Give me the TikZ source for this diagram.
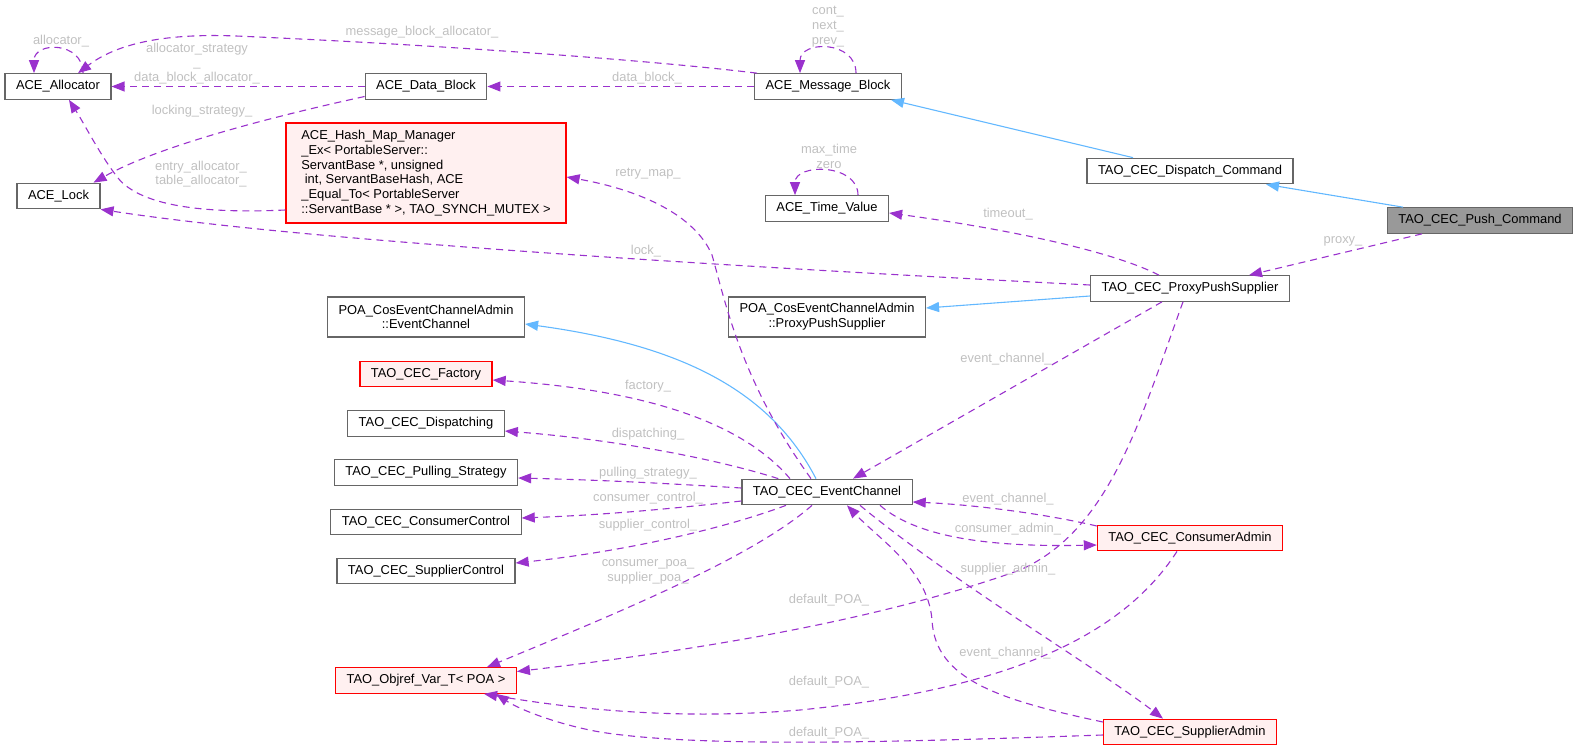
\documentclass[tikz,border=0pt]{standalone}
\usepackage{fontspec}
\setmainfont{Liberation Sans}
\usetikzlibrary{calc, positioning, arrows.meta}

\definecolor{dxpurple}{HTML}{9A32CD}
\definecolor{dxblue}{HTML}{63B8FF}
\definecolor{dxgrey}{HTML}{666666}
\definecolor{dxred}{HTML}{FF0000}
\definecolor{dxpink}{HTML}{FFF0F0}
\definecolor{dxfocus}{HTML}{999999}
\definecolor{dxlabel}{HTML}{C0C0C0}
\newcommand{\dxfont}{\fontsize{12.9pt}{14.7pt}\selectfont}

\tikzset{
  cls/.style={draw=dxgrey, line width=1.2pt, fill=white, font=\dxfont, inner xsep=11pt, inner ysep=0pt,
    minimum height=25.5pt, text height=9.5pt, text depth=3pt},
  undoc/.style={cls, draw=dxred, fill=dxpink},
  focus/.style={cls, fill=dxfocus},
  tall/.style={draw=dxgrey, line width=1.2pt, fill=white, font=\dxfont, inner xsep=11pt, inner ysep=0pt,
    align=center, minimum height=40pt},
  rel/.style={dxpurple, line width=1.1pt, dash pattern=on 7pt off 5pt, -{Triangle[length=13pt,width=10pt]}},
  isa/.style={dxblue, line width=1.1pt, -{Triangle[length=13pt,width=10pt]}},
  lbl/.style={font=\dxfont, text=dxlabel, align=center, inner sep=0pt},
}

\begin{document}
\begin{tikzpicture}[x=1pt, y=-1pt]
\useasboundingbox (0,0) rectangle (1579,752);

% classes
\node[cls] (alloc) at (58,86.5) {ACE\_Allocator};
\node[cls] (datablk) at (426,86.5) {ACE\_Data\_Block};
\node[cls] (msgblk) at (828,86.5) {ACE\_Message\_Block};
\node[cls] (lock) at (58.5,196) {ACE\_Lock};
\node[draw=dxred, fill=dxpink, line width=1.2pt, font=\dxfont, align=left, inner xsep=11pt,
  minimum width=280pt, minimum height=100pt] (hashmap) at (426,173)
  {ACE\_Hash\_Map\_Manager\\\_Ex< PortableServer::\\ServantBase *, unsigned\\\hspace*{3.5pt}int, ServantBaseHash, ACE\\\_Equal\_To< PortableServer\\::ServantBase * >, TAO\_SYNCH\_MUTEX >};
\node[cls] (timeval) at (827,208.5) {ACE\_Time\_Value};
\node[cls] (dispcmd) at (1190,171) {TAO\_CEC\_Dispatch\_Command};
\node[focus] (pushcmd) at (1480,220.5) {TAO\_CEC\_Push\_Command};
\node[cls] (pps) at (1190,288.5) {TAO\_CEC\_ProxyPushSupplier};
\node[tall] (poaec) at (426,317) {POA\_CosEventChannelAdmin\\::EventChannel};
\node[tall] (poapps) at (827,317) {POA\_CosEventChannelAdmin\\::ProxyPushSupplier};
\node[undoc] (factory) at (426,374) {TAO\_CEC\_Factory};
\node[cls] (dispatching) at (426,423.5) {TAO\_CEC\_Dispatching};
\node[cls] (pulling) at (426,472.5) {TAO\_CEC\_Pulling\_Strategy};
\node[cls] (consctrl) at (426,522) {TAO\_CEC\_ConsumerControl};
\node[cls] (suppctrl) at (426,571) {TAO\_CEC\_SupplierControl};
\node[cls] (ec) at (827,492) {TAO\_CEC\_EventChannel};
\node[undoc] (consadm) at (1190,538) {TAO\_CEC\_ConsumerAdmin};
\node[undoc] (objref) at (426,680.5) {TAO\_Objref\_Var\_T< POA >};
\node[undoc] (suppadm) at (1190,732) {TAO\_CEC\_SupplierAdmin};

% inheritance
\draw[isa] ($(dispcmd.north)+(-57,0)$) -- ($(msgblk.south)+(63,0)$);
\draw[isa] ($(pushcmd.north)+(-77,0)$) -- ($(dispcmd.south)+(76,0)$);
\draw[isa] ($(pps.west)+(0,7.5)$) -- ($(poapps.east)+(0,-9)$);
\draw[isa] ($(ec.north)+(-11,0)$) .. controls (770,390) and (680,345) .. ($(poaec.east)+(0,7)$);

% usage
\draw[rel] ($(alloc.north)+(25,0)$) .. controls +(0,-32) and +(0,-32) .. ($(alloc.north)+(-24,0)$);
\draw[rel] ($(msgblk.north)+(28,0)$) .. controls +(0,-33) and +(0,-33) .. ($(msgblk.north)+(-28,0)$);
\draw[rel] ($(timeval.north)+(31,0)$) .. controls +(0,-32) and +(0,-32) .. ($(timeval.north)+(-32,0)$);
\draw[rel] ($(msgblk.north west)+(3,0)$) .. controls (640,59) and (420,44) .. (236,36)
  .. controls (160,33) and (115,45) .. ($(alloc.north)+(20,0)$);
\draw[rel] (datablk.west) -- (alloc.east);
\draw[rel] ($(datablk.west)+(0,10)$) .. controls (280,115) and (160,145) .. ($(lock.north)+(35,0)$);
\draw[rel] ($(hashmap.west)+(0,37)$) .. controls (200,214) and (140,205) .. (118,178)
  .. controls (100,155) and (85,125) .. ($(alloc.south)+(11,0)$);
\draw[rel] (msgblk.west) -- (datablk.east);
\draw[rel] ($(pps.north)+(-31,0)$) .. controls (1110,250) and (1000,228) .. ($(timeval.east)+(0,4.5)$);
\draw[rel] ($(pps.west)+(0,-3.5)$) .. controls (700,265) and (300,240) .. (lock.south east);
\draw[rel] ($(pushcmd.south)+(-58,0)$) -- ($(pps.north)+(59,0)$);
\draw[rel] ($(ec.north)+(-16,0)$) .. controls (740,380) and (725,300) .. (712,255)
  .. controls (695,215) and (640,190) .. ($(hashmap.east)+(0,4)$);
\draw[rel] ($(ec.north)+(-37,0)$) .. controls (740,420) and (640,390) .. ($(factory.east)+(0,6)$);
\draw[rel] ($(ec.north west)+(37,0)$) .. controls (720,460) and (620,440) .. ($(dispatching.east)+(0,7.5)$);
\draw[rel] ($(ec.west)+(0,-4)$) .. controls (660,483) and (600,480) .. ($(pulling.east)+(0,5.5)$);
\draw[rel] ($(ec.west)+(0,9)$) .. controls (660,510) and (600,515) .. ($(consctrl.east)+(0,-4)$);
\draw[rel] ($(ec.south)+(-41,0)$) .. controls (720,530) and (620,552) .. ($(suppctrl.east)+(0,-8)$);
\draw[rel] ($(ec.south)+(-15,0)$) .. controls (750,560) and (600,620) .. ($(objref.north)+(61,0)$);
\draw[rel] ($(pps.south)+(-28,0)$) -- ($(ec.north)+(26,0)$);
\draw[rel] ($(pps.south)+(-7,0)$) .. controls (1140,420) and (1110,530) .. (1020,570)
  .. controls (880,620) and (700,650) .. ($(objref.east)+(0,-9)$);
\draw[rel] ($(consadm.west)+(0,-12)$) .. controls (1050,515) and (980,505) .. ($(ec.east)+(0,10)$);
\draw[rel] ($(ec.south)+(53,0)$) .. controls (920,540) and (1000,547) .. ($(consadm.west)+(0,7)$);
\draw[rel] ($(ec.south)+(33,0)$) .. controls (950,580) and (1100,670) .. ($(suppadm.north)+(-27,0)$);
\draw[rel] ($(suppadm.west)+(0,-10)$) .. controls (1000,700) and (935,680) .. (932,620)
  .. controls (928,570) and (880,540) .. ($(ec.south)+(20,0)$);
\draw[rel] ($(consadm.south)+(-13,0)$) .. controls (1120,640) and (1000,690) .. (800,710)
  .. controls (680,720) and (580,710) .. ($(objref.south)+(58,0)$);
\draw[rel] ($(suppadm.west)+(0,3)$) .. controls (900,742) and (700,748) .. (600,732)
  .. controls (560,725) and (520,710) .. ($(objref.south)+(70,0)$);

% labels
\node[lbl] (l-alloc) at (61,41) {allocator\_};
\node[lbl] (l-mballoc) at (422,32) {message\_block\_allocator\_};
\node[lbl] (l-dballoc) at (197,63.5) {allocator\_strategy\\\_\\data\_block\_allocator\_};
\node[lbl] (l-locking) at (202,111) {locking\_strategy\_};
\node[lbl] (l-entry) at (201,174) {entry\_allocator\_\\table\_allocator\_};
\node[lbl] (l-datablk) at (647,78) {data\_block\_};
\node[lbl] (l-cont) at (828,26.5) {cont\_\\next\_\\prev\_};
\node[lbl] (l-maxtime) at (829,156.5) {max\_time\\zero};
\node[lbl] (l-timeout) at (1008,214) {timeout\_};
\node[lbl] (l-lock) at (646,251) {lock\_};
\node[lbl] (l-proxy) at (1343,241) {proxy\_};
\node[lbl] (l-retry) at (648,174) {retry\_map\_};
\node[lbl] (l-factory) at (648,386) {factory\_};
\node[lbl] (l-dispatching) at (648,434) {dispatching\_};
\node[lbl] (l-pulling) at (648,473) {pulling\_strategy\_};
\node[lbl] (l-consctrl) at (648,498) {consumer\_control\_};
\node[lbl] (l-suppctrl) at (648,525) {supplier\_control\_};
\node[lbl] (l-poa) at (648,572) {consumer\_poa\_\\supplier\_poa\_};
\node[lbl] (l-ppsec) at (1006,359) {event\_channel\_};
\node[lbl] (l-ppspoa) at (829,600) {default\_POA\_};
\node[lbl] (l-caec) at (1008,499) {event\_channel\_};
\node[lbl] (l-consadm) at (1008,529) {consumer\_admin\_};
\node[lbl] (l-suppadm) at (1008,569) {supplier\_admin\_};
\node[lbl] (l-saec) at (1005,653) {event\_channel\_};
\node[lbl] (l-capoa) at (829,682) {default\_POA\_};
\node[lbl] (l-sapoa) at (829,733) {default\_POA\_};
\end{tikzpicture}
\end{document}
